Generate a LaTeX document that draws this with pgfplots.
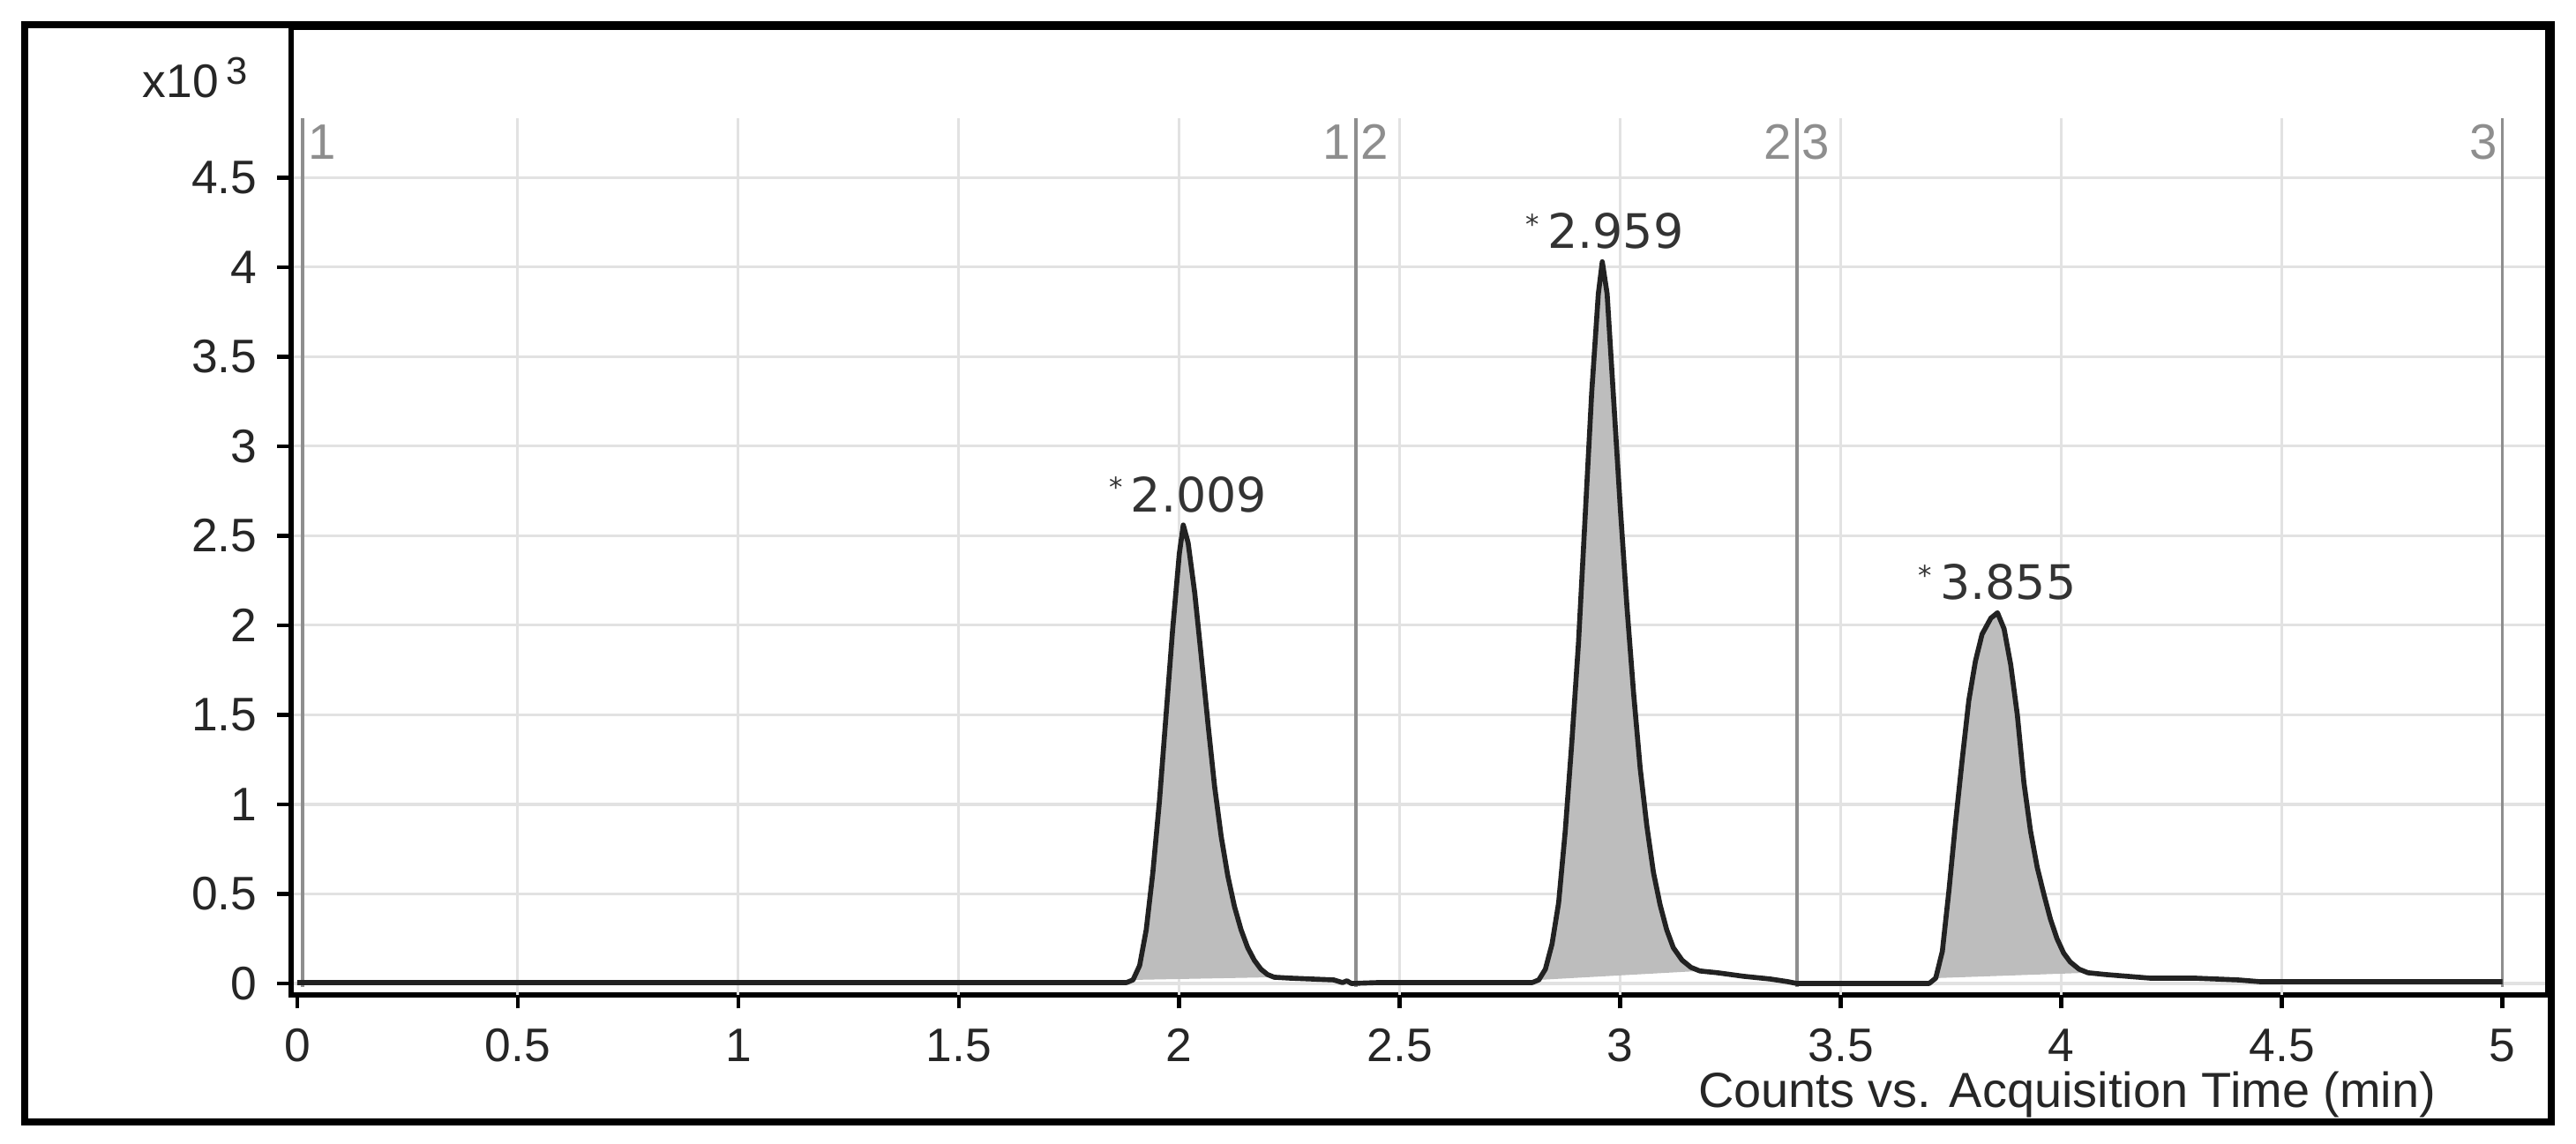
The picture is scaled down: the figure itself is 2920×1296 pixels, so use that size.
\documentclass[border=0pt]{standalone}
\usepackage{pgfplots}
\pgfplotsset{compat=1.18}
\usepackage{fontspec}
\setmainfont{Liberation Sans}
\newfontfamily\pkfont{DejaVu Sans}
\definecolor{gridc}{HTML}{E2E2E2}
\definecolor{segc}{HTML}{8E8E8E}
\definecolor{sigc}{HTML}{222222}
\definecolor{fillc}{HTML}{BDBDBD}
\begin{document}
\begin{tikzpicture}
\begin{scope}[x=0.0068493cm,y=0.0068493cm]
\path (0,0) rectangle (2920,1296);
\end{scope}
\begin{axis}[
  at={(2.260cm,1.151cm)}, anchor=south west,
  scale only axis, width=17.53cm, height=7.52cm,
  xmin=-0.014, xmax=5.104, ymin=-0.064, ymax=5.342,
  xtick={0,0.5,1,1.5,2,2.5,3,3.5,4,4.5,5},
  ytick={0,0.5,1,1.5,2,2.5,3,3.5,4,4.5},
  xticklabels={0,0.5,1,1.5,2,2.5,3,3.5,4,4.5,5},
  yticklabels={0,0.5,1,1.5,2,2.5,3,3.5,4,4.5},
  tick align=outside, xtick pos=lower, ytick pos=lower,
  major tick length=3pt,
  tick style={black, line width=0.9pt},
  tick label style={font=\fontsize{10.4}{12}\selectfont, text=black!85},
  /pgf/number format/assume math mode=true,
  xticklabel style={yshift=-1pt},
  yticklabel style={xshift=-1pt},
  ymajorgrids=true,
  grid style={gridc, line width=0.6pt},
  axis line style={black, line width=1.3pt},
]
% vertical grid lines (stop below the segment labels)
\addplot[gridc, line width=0.6pt, forget plot] coordinates {(0.5,-0.064) (0.5,4.83)};
\addplot[gridc, line width=0.6pt, forget plot] coordinates {(1,-0.064) (1,4.83)};
\addplot[gridc, line width=0.6pt, forget plot] coordinates {(1.5,-0.064) (1.5,4.83)};
\addplot[gridc, line width=0.6pt, forget plot] coordinates {(2,-0.064) (2,4.83)};
\addplot[gridc, line width=0.6pt, forget plot] coordinates {(2.5,-0.064) (2.5,4.83)};
\addplot[gridc, line width=0.6pt, forget plot] coordinates {(3,-0.064) (3,4.83)};
\addplot[gridc, line width=0.6pt, forget plot] coordinates {(3.5,-0.064) (3.5,4.83)};
\addplot[gridc, line width=0.6pt, forget plot] coordinates {(4,-0.064) (4,4.83)};
\addplot[gridc, line width=0.6pt, forget plot] coordinates {(4.5,-0.064) (4.5,4.83)};
% segment boundaries
\addplot[segc, line width=0.7pt, forget plot] coordinates {(0.012,-0.02) (0.012,4.83)};
\addplot[segc, line width=0.7pt, forget plot] coordinates {(2.4,-0.02) (2.4,4.83)};
\addplot[segc, line width=0.7pt, forget plot] coordinates {(3.4,-0.02) (3.4,4.83)};
\addplot[segc, line width=0.7pt, forget plot] coordinates {(5.0,-0.02) (5.0,4.83)};
\node[anchor=west, text=segc, font=\fontsize{11}{12}\selectfont, inner sep=1pt] at (axis cs:0.012,4.70) {1};
\node[anchor=east, text=segc, font=\fontsize{11}{12}\selectfont, inner sep=1pt] at (axis cs:2.4,4.70) {1};
\node[anchor=west, text=segc, font=\fontsize{11}{12}\selectfont, inner sep=1pt] at (axis cs:2.4,4.70) {2};
\node[anchor=east, text=segc, font=\fontsize{11}{12}\selectfont, inner sep=1pt] at (axis cs:3.4,4.70) {2};
\node[anchor=west, text=segc, font=\fontsize{11}{12}\selectfont, inner sep=1pt] at (axis cs:3.4,4.70) {3};
\node[anchor=east, text=segc, font=\fontsize{11}{12}\selectfont, inner sep=1pt] at (axis cs:5.0,4.70) {3};
% integrated peak areas
\addplot[fill=fillc, draw=none, forget plot] coordinates {
 (1.895,0.02) (1.91,0.10) (1.925,0.30) (1.94,0.62) (1.955,1.02) (1.97,1.50)
 (1.985,1.98) (2.000,2.40) (2.009,2.56) (2.020,2.46) (2.035,2.18) (2.050,1.82)
 (2.065,1.45) (2.080,1.10) (2.095,0.82) (2.110,0.60) (2.125,0.43) (2.140,0.30)
 (2.155,0.20) (2.170,0.13) (2.185,0.08) (2.200,0.05) (2.215,0.035)} -- cycle;
\addplot[fill=fillc, draw=none, forget plot] coordinates {
 (2.815,0.02) (2.83,0.08) (2.845,0.22) (2.86,0.45) (2.875,0.85) (2.89,1.35)
 (2.905,1.90) (2.92,2.60) (2.935,3.30) (2.95,3.85) (2.959,4.03) (2.97,3.85)
 (2.985,3.25) (3.00,2.65) (3.015,2.10) (3.03,1.62) (3.045,1.20) (3.06,0.88)
 (3.075,0.62) (3.09,0.44) (3.105,0.30) (3.12,0.20) (3.14,0.13) (3.16,0.09)
 (3.18,0.07)} -- cycle;
\addplot[fill=fillc, draw=none, forget plot] coordinates {
 (3.715,0.03) (3.73,0.18) (3.745,0.52) (3.76,0.90) (3.775,1.25) (3.79,1.58)
 (3.805,1.80) (3.82,1.95) (3.84,2.04) (3.855,2.07) (3.87,1.98) (3.885,1.78)
 (3.90,1.50) (3.915,1.12) (3.93,0.85) (3.945,0.65) (3.96,0.50) (3.975,0.36)
 (3.99,0.25) (4.005,0.17) (4.02,0.12) (4.04,0.08) (4.06,0.06)} -- cycle;
% chromatogram trace
\addplot[sigc, line width=1.1pt, line join=round, forget plot] coordinates {
 (0,0.005) (1.88,0.005)
 (1.895,0.02) (1.91,0.10) (1.925,0.30) (1.94,0.62) (1.955,1.02) (1.97,1.50)
 (1.985,1.98) (2.000,2.40) (2.009,2.56) (2.020,2.46) (2.035,2.18) (2.050,1.82)
 (2.065,1.45) (2.080,1.10) (2.095,0.82) (2.110,0.60) (2.125,0.43) (2.140,0.30)
 (2.155,0.20) (2.170,0.13) (2.185,0.08) (2.200,0.05) (2.215,0.035)
 (2.25,0.03) (2.30,0.025) (2.35,0.02) (2.37,0.005) (2.38,0.015) (2.39,0.0)
 (2.45,0.005) (2.80,0.005)
 (2.815,0.02) (2.83,0.08) (2.845,0.22) (2.86,0.45) (2.875,0.85) (2.89,1.35)
 (2.905,1.90) (2.92,2.60) (2.935,3.30) (2.95,3.85) (2.959,4.03) (2.97,3.85)
 (2.985,3.25) (3.00,2.65) (3.015,2.10) (3.03,1.62) (3.045,1.20) (3.06,0.88)
 (3.075,0.62) (3.09,0.44) (3.105,0.30) (3.12,0.20) (3.14,0.13) (3.16,0.09)
 (3.18,0.07) (3.22,0.06) (3.28,0.04) (3.34,0.025) (3.38,0.01) (3.40,0.0)
 (3.70,0.0)
 (3.715,0.03) (3.73,0.18) (3.745,0.52) (3.76,0.90) (3.775,1.25) (3.79,1.58)
 (3.805,1.80) (3.82,1.95) (3.84,2.04) (3.855,2.07) (3.87,1.98) (3.885,1.78)
 (3.90,1.50) (3.915,1.12) (3.93,0.85) (3.945,0.65) (3.96,0.50) (3.975,0.36)
 (3.99,0.25) (4.005,0.17) (4.02,0.12) (4.04,0.08) (4.06,0.06)
 (4.10,0.05) (4.20,0.03) (4.30,0.03) (4.40,0.02) (4.45,0.01) (5.0,0.01)};
% peak labels
\node[anchor=south, font=\pkfont\fontsize{10.5}{12}\selectfont, text=black!80, inner sep=1pt] at (axis cs:2.02,2.60) {\raisebox{0.55ex}{\fontsize{6}{6}\selectfont *}\,2.009};
\node[anchor=south, font=\pkfont\fontsize{10.5}{12}\selectfont, text=black!80, inner sep=1pt] at (axis cs:2.965,4.07) {\raisebox{0.55ex}{\fontsize{6}{6}\selectfont *}\,2.959};
\node[anchor=south, font=\pkfont\fontsize{10.5}{12}\selectfont, text=black!80, inner sep=1pt] at (axis cs:3.855,2.11) {\raisebox{0.55ex}{\fontsize{6}{6}\selectfont *}\,3.855};
\end{axis}
\begin{scope}[x=0.0068493cm,y=0.0068493cm]
\draw[black, line width=1.6pt] (28,24) rectangle (2892,1268);
\node[anchor=east, font=\fontsize{10.4}{12}\selectfont, text=black!85, inner sep=0pt] at (282,1208) {x10\,\raisebox{0.55ex}{\fontsize{8.5}{9}\selectfont 3}};
\node[anchor=east, font=\fontsize{10.9}{12}\selectfont, text=black!85, inner sep=0pt] at (2762,55) {Counts vs. Acquisition Time (min)};
\end{scope}
\end{tikzpicture}
\end{document}
